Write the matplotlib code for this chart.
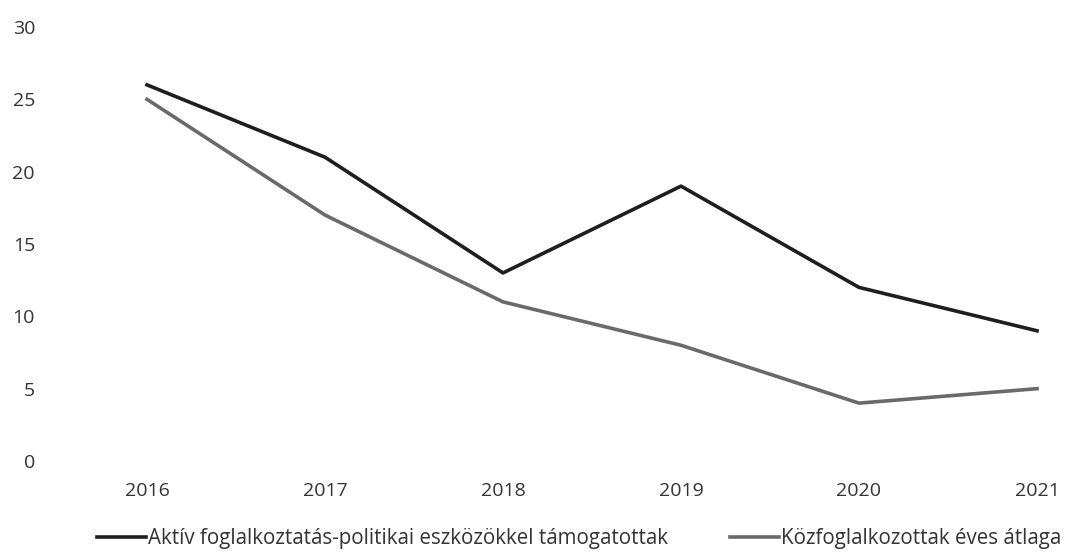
import matplotlib.pyplot as plt

# adatok
evek = [2016, 2017, 2018, 2019, 2020, 2021]
aktiv = [26, 21, 13, 19, 12, 9]
kozfogl = [25, 17, 11, 8, 4, 5]
nevek = ["Aktív foglalkoztatás-politikai eszközökkel támogatottak",
         "Közfoglalkozottak éves átlaga"]

plt.rcParams['font.family'] = ['Open Sans', 'DejaVu Sans']

fig = plt.figure(figsize=(10.67, 5.54), dpi=100)
ax = fig.add_axes([147 / 1067, 93 / 554, 890 / 1067, 434 / 554])

ax.plot(evek, aktiv, color='#1e1e1e', lw=2.6, label=nevek[0], clip_on=False,
        solid_joinstyle='round')
ax.plot(evek, kozfogl, color='#6a6a6a', lw=2.6, label=nevek[1], clip_on=False,
        solid_joinstyle='round')

ax.set_xlim(2016, 2021)
ax.set_ylim(0, 30)
ax.set_yticks(range(0, 31, 5))
ax.set_xticks(evek)
for s in ax.spines.values():
    s.set_visible(False)
ax.tick_params(axis='both', length=0, labelsize=14, colors='#333333')
ax.tick_params(axis='y', pad=112 * 0.72)
ax.tick_params(axis='x', pad=15)

fig.legend(loc='lower center', bbox_to_anchor=(0.543, -0.025), ncol=2, frameon=False,
           fontsize=14.8, handlelength=2.4, handletextpad=0.1, columnspacing=3.0,
           labelcolor='#333333')

fig.savefig('out.png', dpi=100)
